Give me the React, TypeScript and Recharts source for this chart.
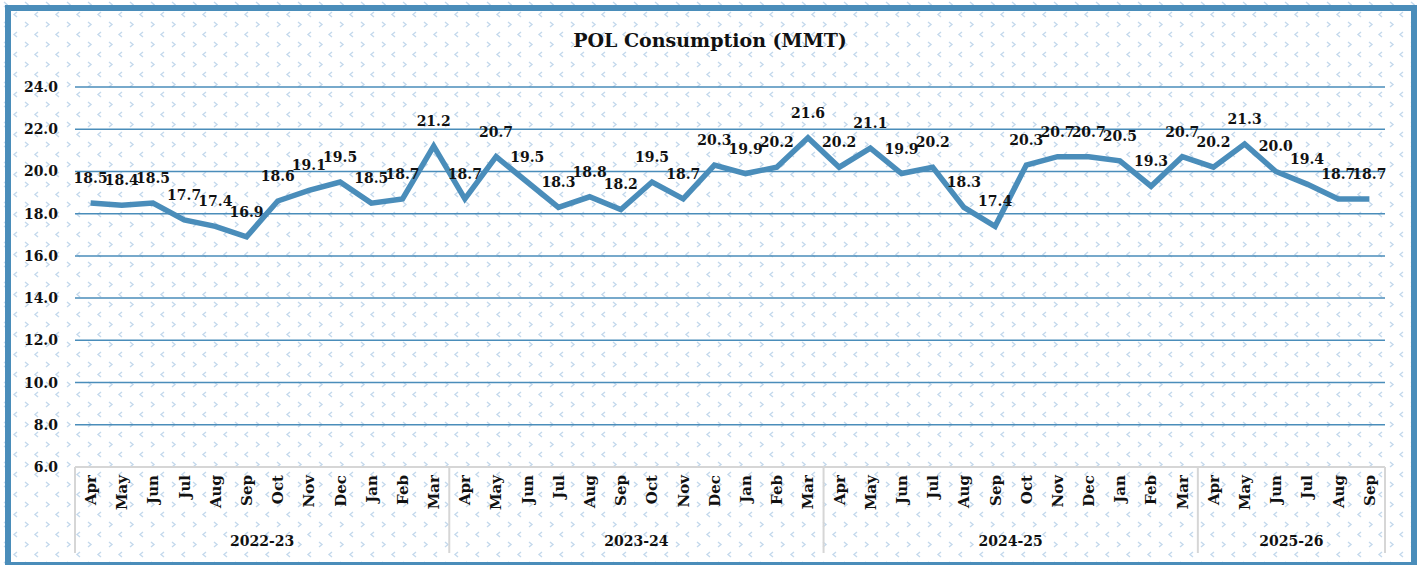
import React from 'react';
import { LineChart, Line, XAxis, YAxis, CartesianGrid, LabelList } from 'recharts';

const months = ['Apr', 'May', 'Jun', 'Jul', 'Aug', 'Sep', 'Oct', 'Nov', 'Dec', 'Jan', 'Feb', 'Mar'];
const years = ['2022-23', '2023-24', '2024-25', '2025-26'];

const fy2223 = [18.5, 18.4, 18.5, 17.7, 17.4, 16.9, 18.6, 19.1, 19.5, 18.5, 18.7, 21.2];
const fy2324 = [18.7, 20.7, 19.5, 18.3, 18.8, 18.2, 19.5, 18.7, 20.3, 19.9, 20.2, 21.6];
const fy2425 = [20.2, 21.1, 19.9, 20.2, 18.3, 17.4, 20.3, 20.7, 20.7, 20.5, 19.3, 20.7];
const fy2526 = [20.2, 21.3, 20.0, 19.4, 18.7, 18.7];

const yTicks = [6, 8, 10, 12, 14, 16, 18, 20, 22, 24];

const seriesByYear = [fy2223, fy2324, fy2425, fy2526];
const data = years.flatMap((yr, yi) =>
  seriesByYear[yi].map((v, i) => ({
    key: `${yr} ${months[i]}`,
    month: months[i],
    year: yr,
    value: v,
    pos: i,
    count: seriesByYear[yi].length,
  }))
);

const FONT = '"DejaVu Serif", serif';
const BLUE = '#4a8dba';
const GREY = '#d6d6d6';

const patternSvg =
  "<svg xmlns='http://www.w3.org/2000/svg' width='21' height='20'>" +
  "<path d='M4 2 L7 4.5 L4 7' fill='none' stroke='#c4d9ec' stroke-width='1.4'/>" +
  "<path d='M17 12 L14 14.5 L17 17' fill='none' stroke='#c4d9ec' stroke-width='1.4'/>" +
  '</svg>';
const patternUrl = `url("data:image/svg+xml;utf8,${encodeURIComponent(patternSvg)}")`;

const MonthTick = (props: any) => {
  const { x, y, payload, index } = props;
  const d = data[index];
  if (!d) return null;
  const half = payload?.offset || 15.6;
  return (
    <g>
      <text
        transform={`translate(${x},${y + 8}) rotate(-90)`}
        textAnchor="end"
        dy="0.36em"
        fontFamily={FONT}
        fontWeight="bold"
        fontSize={15}
        fill="#111"
      >
        {d.month}
      </text>
      {d.pos === 0 && (
        <line x1={x - half} x2={x - half} y1={y} y2={y + 86} stroke={GREY} strokeWidth={2} />
      )}
      {index === data.length - 1 && (
        <line x1={x + half} x2={x + half} y1={y} y2={y + 86} stroke={GREY} strokeWidth={2} />
      )}
      {d.pos === d.count / 2 - 1 && (
        <text
          x={x + half}
          y={y + 74}
          textAnchor="middle"
          dy="0.36em"
          fontFamily={FONT}
          fontWeight="bold"
          fontSize={14}
          fill="#111"
        >
          {d.year}
        </text>
      )}
    </g>
  );
};

export default function App() {
  return (
    <div
      style={{
        position: 'absolute',
        left: 0,
        top: 0,
        width: 1420,
        height: 565,
        backgroundColor: '#fff',
        backgroundImage: patternUrl,
        overflow: 'hidden',
      }}
    >
      <div
        style={{
          position: 'absolute',
          left: 5,
          top: 5,
          width: 1412,
          height: 560,
          boxSizing: 'border-box',
          border: `6px solid ${BLUE}`,
          borderBottomWidth: 3,
        }}
      />
      <div
        style={{
          position: 'absolute',
          left: 0,
          top: 29,
          width: 1420,
          textAlign: 'center',
          fontFamily: FONT,
          fontWeight: 'bold',
          fontSize: 19,
          color: '#111',
        }}
      >
        POL Consumption (MMT)
      </div>
      <div style={{ position: 'absolute', left: 0, top: 0 }}>
        <LineChart
          width={1420}
          height={565}
          data={data}
          margin={{ top: 87, right: 35, left: 0, bottom: 12 }}
        >
          <CartesianGrid vertical={false} stroke={BLUE} strokeWidth={1.5} />
          <XAxis
            dataKey="key"
            scale="band"
            interval={0}
            height={86}
            tickLine={false}
            tickSize={0}
            tickMargin={0}
            axisLine={{ stroke: GREY, strokeWidth: 2 }}
            tick={<MonthTick />}
          />
          <YAxis
            width={75}
            domain={[6, 24]}
            ticks={yTicks}
            interval={0}
            axisLine={false}
            tickLine={false}
            tickSize={0}
            tickMargin={17}
            tickFormatter={(v: number) => v.toFixed(1)}
            tick={{ fontFamily: FONT, fontWeight: 'bold', fontSize: 14, fill: '#111' }}
          />
          <Line
            type="linear"
            dataKey="value"
            stroke={BLUE}
            strokeWidth={5.5}
            dot={false}
            isAnimationActive={false}
          >
            <LabelList
              dataKey="value"
              position="top"
              offset={20}
              formatter={(v: any) => Number(v).toFixed(1)}
              style={{ fontFamily: FONT, fontWeight: 'bold', fontSize: 14, fill: '#111' }}
            />
          </Line>
        </LineChart>
      </div>
    </div>
  );
}
